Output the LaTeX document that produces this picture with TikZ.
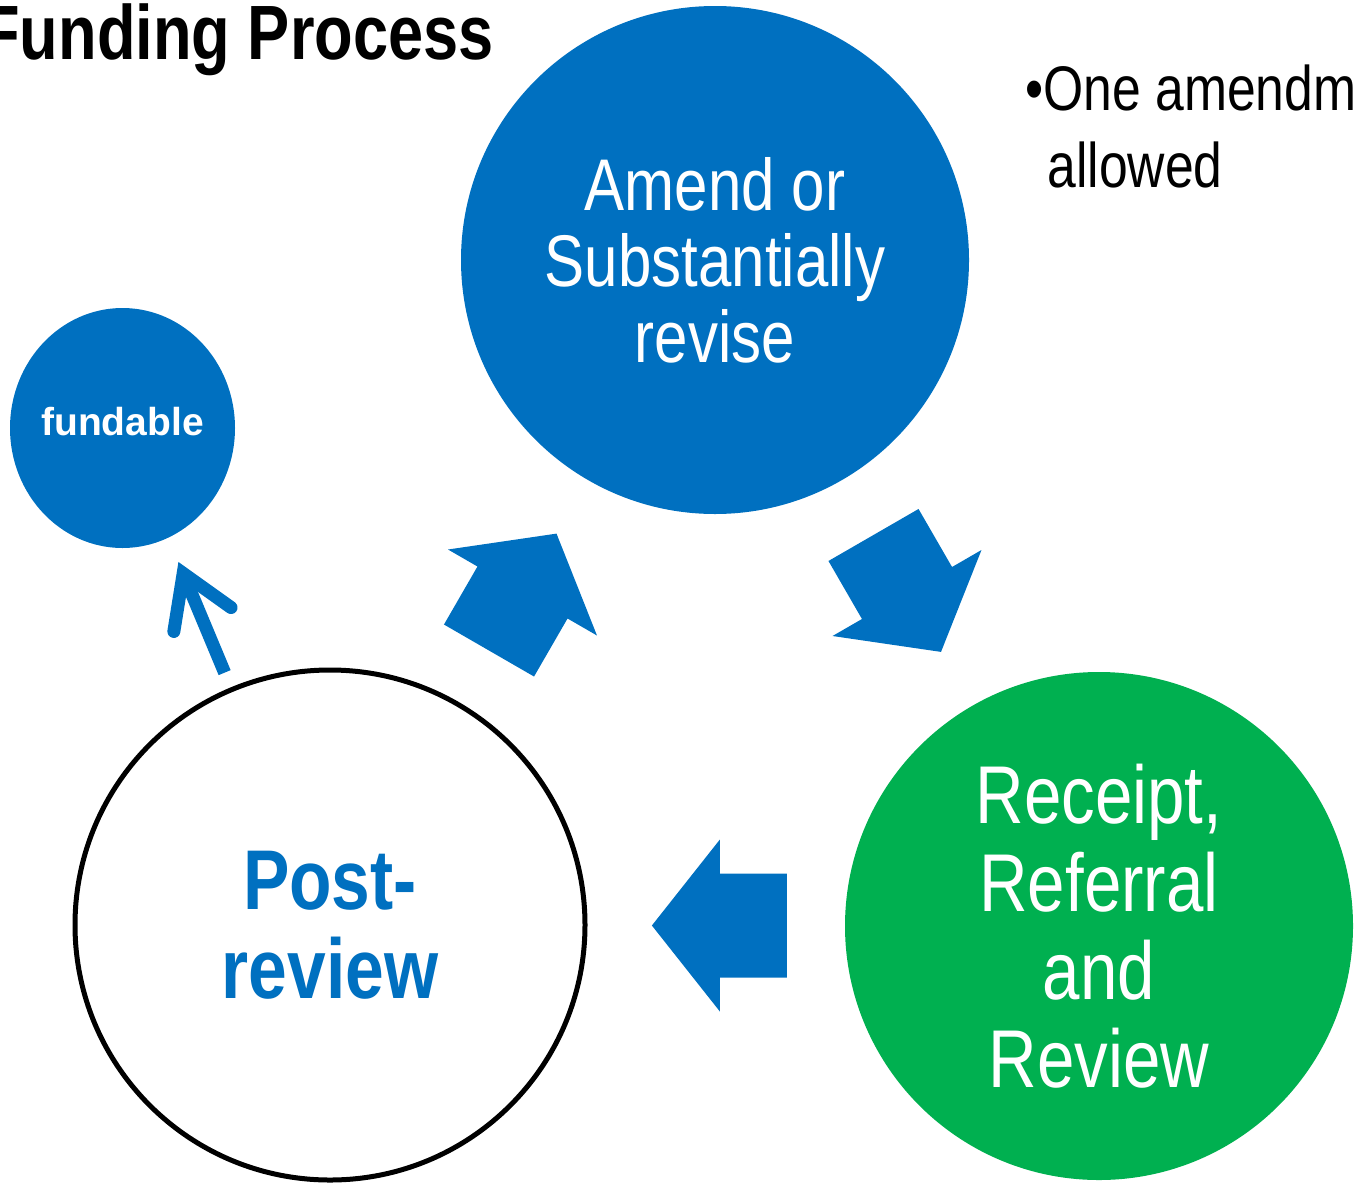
\documentclass[tikz,border=0pt]{standalone}
\usepackage{fontspec}
\setmainfont{Liberation Sans}[FakeStretch=0.82]
\newfontfamily\widefont{Liberation Sans}
\usetikzlibrary{shapes.geometric, arrows.meta, calc}

\definecolor{cycleblue}{HTML}{0070C0}
\definecolor{cyclegreen}{HTML}{00B050}

\begin{document}
\begin{tikzpicture}[x=0.5pt, y=-0.5pt, line join = round, line cap = round,
    stage/.style={circle, minimum size=254pt, inner sep=0pt, align=center},
    blockarrow/.style={fill=cycleblue}]
    \useasboundingbox (0,0) rectangle (1359,1183);
    \clip (0,0) rectangle (1359,1183);

    % the three stages
    \node [stage, fill=cycleblue, text=white, font=\fontsize{36.6}{38}\selectfont]
        (amend) at (715,260) {Amend or\\Substantially\\revise};
    \node [stage, fill=cyclegreen, text=white, font=\fontsize{41}{44}\selectfont]
        (receipt) at (1099,926) {Receipt,\\Referral\\and\\Review};
    \node [stage, draw=black, line width=2.5pt, fill=white, minimum size=255pt,
        text=cycleblue, font=\bfseries\fontsize{42.4}{44.5}\selectfont]
        (post) at (330,925) {Post-\\review};

    \node [ellipse, fill=cycleblue, minimum width=112.5pt, minimum height=120pt, inner sep=0pt,
        label={[text=white, font=\widefont\bfseries\fontsize{19.5}{23}\selectfont, yshift=3pt]center:fundable}]
        (fund) at (122.5,428) {};

    % texts
    \node [anchor=base east, inner sep=0pt, font=\bfseries\fontsize{38.5}{40}\selectfont]
        (title) at (494,59) {Funding Process};
    \node [anchor=base west, inner sep=0pt, align=left, font=\fontsize{31.5}{38.5}\selectfont]
        (note) at (1025,187) {\textbullet One amendm\\\hphantom{\textbullet}\hspace*{2pt}allowed};

    % block arrows of the cycle
    \foreach \from/\to/\pos/\ang in {post/amend/0.5/60, amend/receipt/0.5/-60, receipt/post/0.493/180}
        \fill [blockarrow, shift={($(\from)!\pos!(\to)$)}, rotate=\ang]
            (-67,-52) -- (0,-52) -- (0,-86) -- (68,0) -- (0,86) -- (0,52) -- (-67,52) -- cycle;

    \draw [cycleblue, line width=6.5pt, line cap=butt,
        -{Straight Barb[length=25pt, width=31pt, line cap=round, line join=miter]},
        shorten <=8pt, shorten >=13pt] (post) -- (fund);
\end{tikzpicture}
\end{document}
